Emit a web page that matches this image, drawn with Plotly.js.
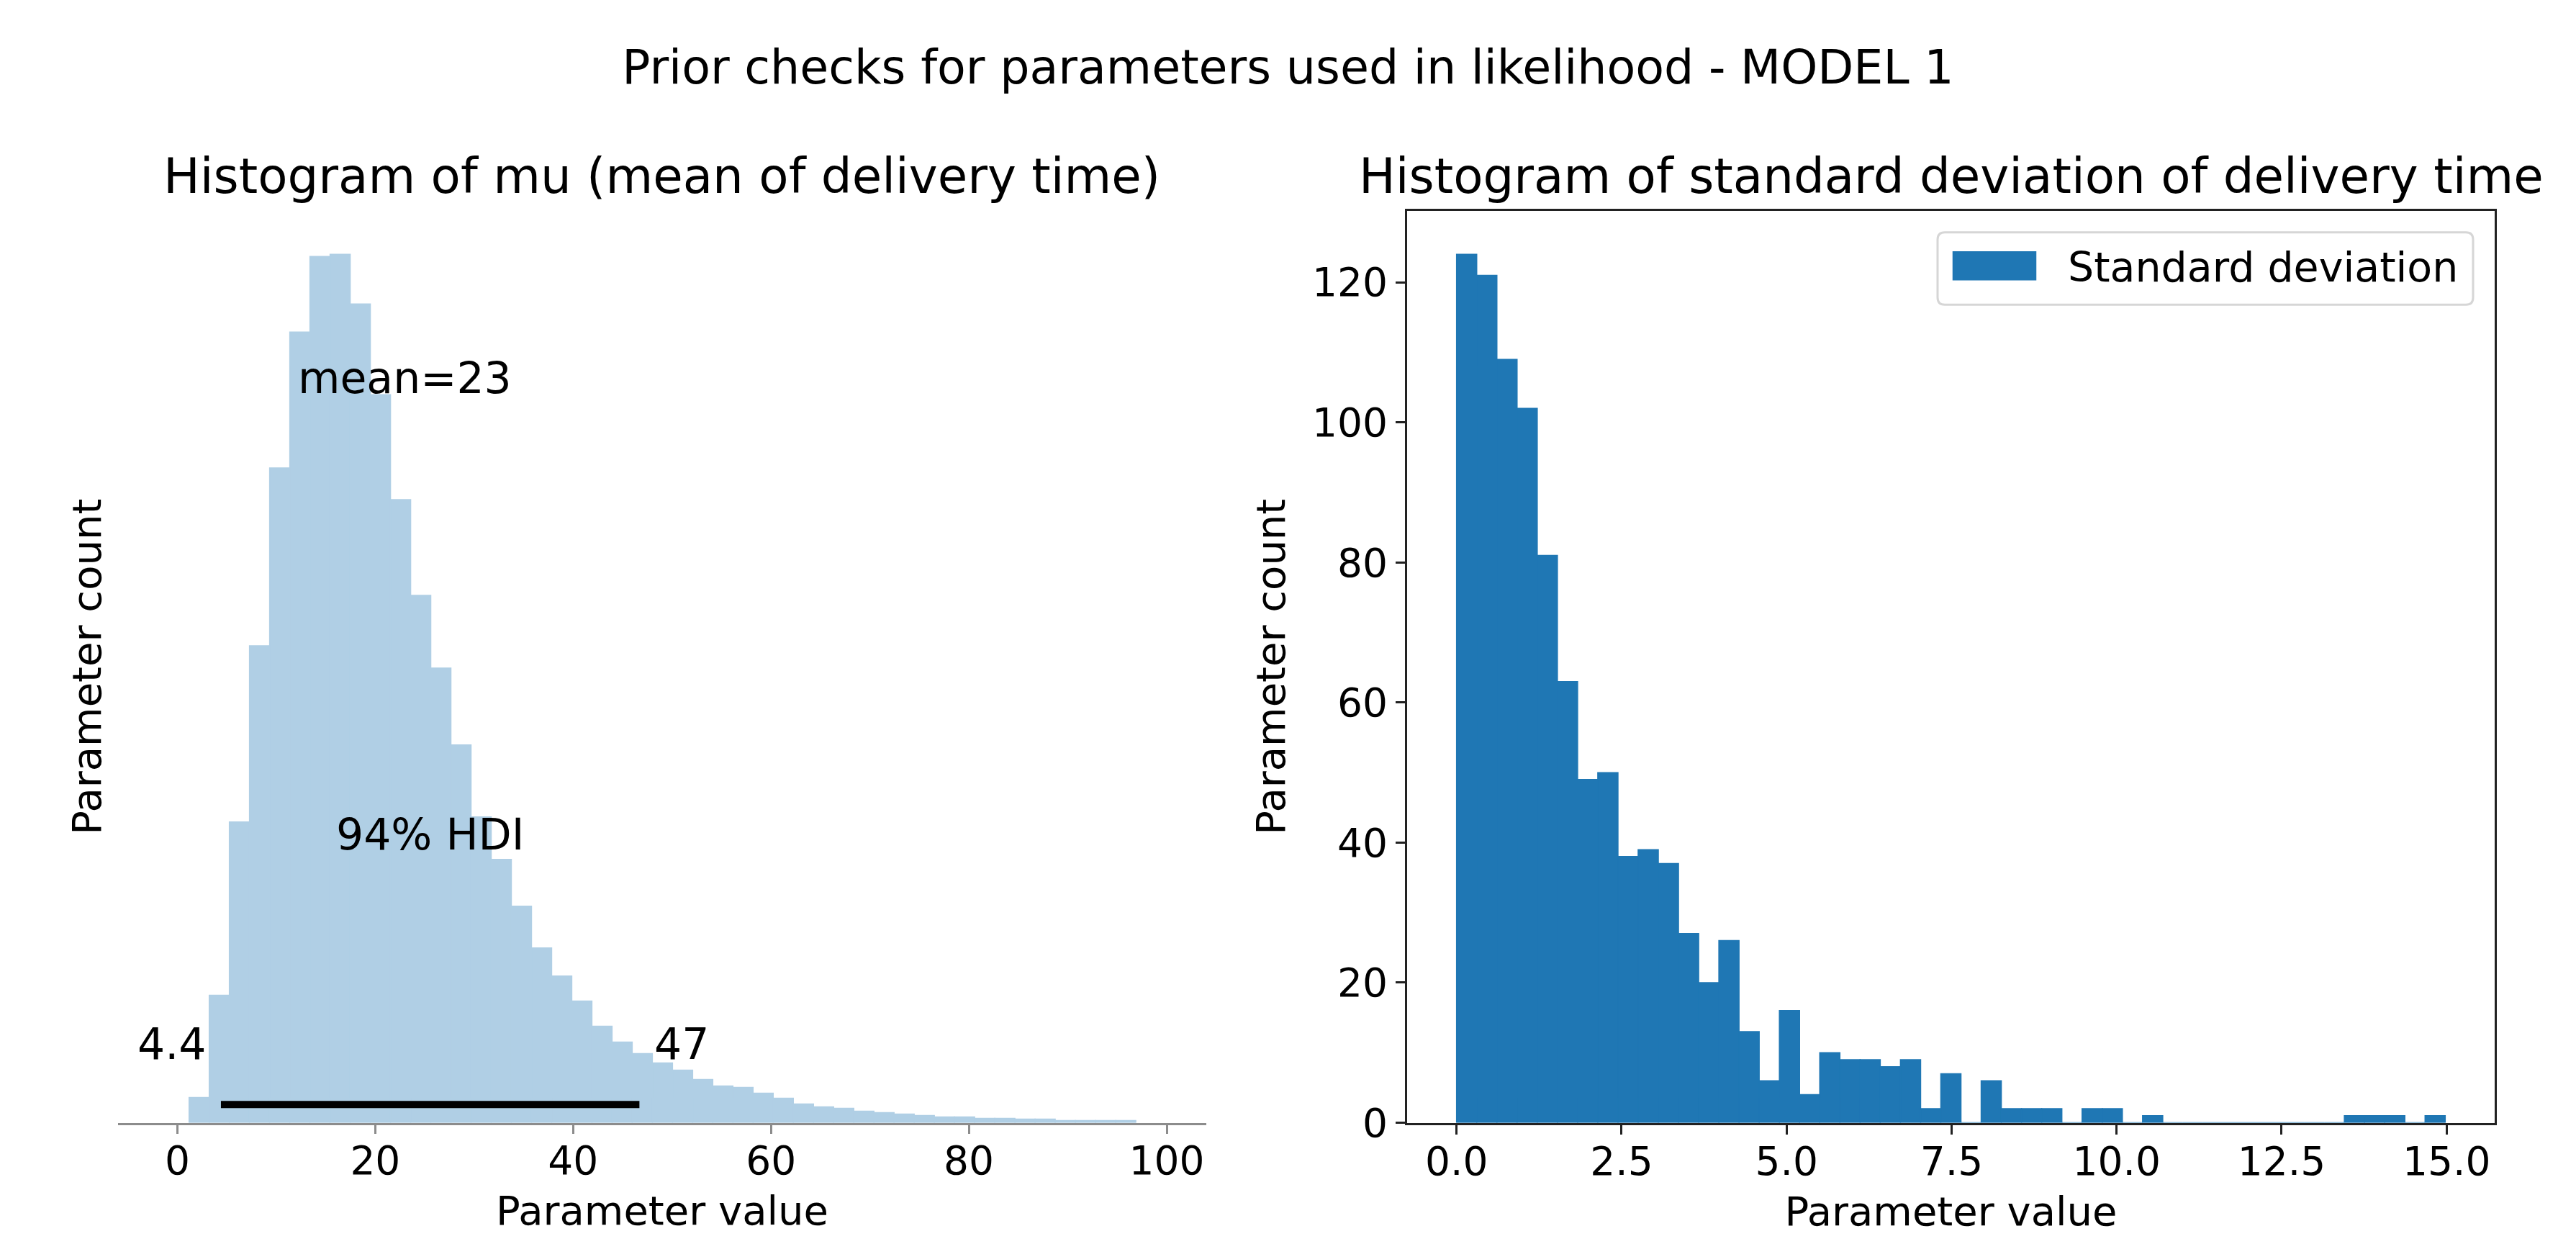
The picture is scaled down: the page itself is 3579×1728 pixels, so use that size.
<!DOCTYPE html>
<html>
<head>
<meta charset="utf-8">
<script src="https://cdn.plot.ly/plotly-3.0.1.min.js"></script>
<style>html,body{margin:0;padding:0;background:#ffffff;}#chart{width:3579px;height:1728px;}</style>
</head>
<body>
<div id="chart"></div>
<script>
// ---- data ----
const suptitle = "Prior checks for parameters used in likelihood - MODEL 1";
const muTitle = "Histogram of mu (mean of delivery time)";
const sdTitle = "Histogram of standard deviation of delivery time";
const xLabel = "Parameter value";
const yLabel = "Parameter count";
const legendLabel = "Standard deviation";

// mu prior histogram (arviz plot_posterior, relative heights, y axis hidden)
const muBinStart = 1.18;
const muBinWidth = 2.036;
const muHeights = [35, 177, 418, 663, 910, 1099, 1204, 1207, 1138, 1012,
                   866, 733, 632, 525, 425, 366, 301, 243, 204, 169,
                   134, 112, 96, 83, 73, 60, 51, 49, 41, 34,
                   26, 22, 20, 16, 14, 12, 10, 8, 8, 6,
                   6, 5, 5, 3, 3, 3, 3];
const muMean = 23;
const muHdi = [4.4, 46.7];
const hdiProb = 94;
const muTicks = [0, 20, 40, 60, 80, 100];

// standard deviation prior histogram (counts, 1000 draws)
const sdBinStart = 0.0;
const sdBinWidth = 0.3057;
const sdCounts = [124, 121, 109, 102, 81, 63, 49, 50, 38, 39,
                  37, 27, 20, 26, 13, 6, 16, 4, 10, 9,
                  9, 8, 9, 2, 7, 0, 6, 2, 2, 2,
                  0, 2, 2, 0, 1, 0, 0, 0, 0, 0,
                  0, 0, 0, 0, 1, 1, 1, 0, 1];
const sdXTicks = [0, 2.5, 5, 7.5, 10, 12.5, 15];
const sdYTicks = [0, 20, 40, 60, 80, 100, 120];

// ---- build ----
const W = 3579, H = 1728;
const FONT = "DejaVu Sans";
const muCenters = muHeights.map((_, i) => muBinStart + (i + 0.5) * muBinWidth);
const sdCenters = sdCounts.map((_, i) => sdBinStart + (i + 0.5) * sdBinWidth);
const sdEnd = sdBinStart + sdCounts.length * sdBinWidth;
const muYMax = Math.max(...muHeights) * 1.05;
const sdYMax = Math.max(...sdCounts) * 1.05;
const sdPad = 0.05 * (sdEnd - sdBinStart);

const yDom = [1 - 1559.5 / H, 1 - 293 / H];
const x1Dom = [164 / W, 1676 / W];
const x2Dom = [1955 / W, 3466 / W];

const muColor = '#b0cfe5';
const sdColor = '#1f77b4';

const traces = [
  {type: 'bar', x: muCenters, y: muHeights, width: muBinWidth,
   marker: {color: muColor, line: {width: 1.5, color: muColor}},
   xaxis: 'x', yaxis: 'y', showlegend: false, hoverinfo: 'skip'},
  {type: 'scatter', mode: 'lines', x: muHdi, y: [0.02 * muYMax, 0.02 * muYMax],
   line: {color: '#000000', width: 10}, xaxis: 'x', yaxis: 'y', showlegend: false, hoverinfo: 'skip'},
  {type: 'bar', x: sdCenters, y: sdCounts, width: sdBinWidth, name: legendLabel,
   marker: {color: sdColor, line: {width: 1.5, color: sdColor}},
   xaxis: 'x2', yaxis: 'y2', showlegend: true}
];

const tickFont = {family: FONT, size: 55, color: '#000000'};
const labFont = {family: FONT, size: 56, color: '#000000'};
const annFont = {family: FONT, size: 60, color: '#000000'};
const titleFont = {family: FONT, size: 67.5, color: '#000000'};
const supFont = {family: FONT, size: 65, color: '#000000'};

function base(fs) { return -(0.236 * fs + 2); }

const annotations = [
  {xref: 'paper', yref: 'paper', x: (x1Dom[0] + x1Dom[1]) / 2, y: yDom[1], yshift: 7,
   xanchor: 'center', yanchor: 'bottom', text: muTitle, showarrow: false, font: titleFont},
  {xref: 'paper', yref: 'paper', x: (x2Dom[0] + x2Dom[1]) / 2, y: yDom[1], yshift: 7,
   xanchor: 'center', yanchor: 'bottom', text: sdTitle, showarrow: false, font: titleFont},
  {xref: 'x', yref: 'y', x: muMean, y: 0.8 * muYMax, yshift: base(60), xanchor: 'center', yanchor: 'bottom',
   text: 'mean=' + muMean, showarrow: false, font: annFont},
  {xref: 'x', yref: 'y', x: (muHdi[0] + muHdi[1]) / 2, y: 0.3 * muYMax, yshift: base(60), xanchor: 'center', yanchor: 'bottom',
   text: hdiProb + '% HDI', showarrow: false, font: annFont},
  {xref: 'x', yref: 'y', x: muHdi[0], y: 0.07 * muYMax, yshift: base(60), xshift: -19, xanchor: 'right', yanchor: 'bottom',
   text: String(muHdi[0]), showarrow: false, font: annFont},
  {xref: 'x', yref: 'y', x: muHdi[1], y: 0.07 * muYMax, yshift: base(60), xshift: 19, xanchor: 'left', yanchor: 'bottom',
   text: String(Math.round(muHdi[1])), showarrow: false, font: annFont}
];

// rounded legend frame (matplotlib fancybox)
const lb = {x0: 2692, x1: 3436, y0: 322.7, y1: 423.3, r: 10};
function px(v) { return v / W; }
function py(v) { return 1 - v / H; }
const framePath =
  'M' + px(lb.x0 + lb.r) + ',' + py(lb.y0) +
  ' L' + px(lb.x1 - lb.r) + ',' + py(lb.y0) +
  ' Q' + px(lb.x1) + ',' + py(lb.y0) + ' ' + px(lb.x1) + ',' + py(lb.y0 + lb.r) +
  ' L' + px(lb.x1) + ',' + py(lb.y1 - lb.r) +
  ' Q' + px(lb.x1) + ',' + py(lb.y1) + ' ' + px(lb.x1 - lb.r) + ',' + py(lb.y1) +
  ' L' + px(lb.x0 + lb.r) + ',' + py(lb.y1) +
  ' Q' + px(lb.x0) + ',' + py(lb.y1) + ' ' + px(lb.x0) + ',' + py(lb.y1 - lb.r) +
  ' L' + px(lb.x0) + ',' + py(lb.y0 + lb.r) +
  ' Q' + px(lb.x0) + ',' + py(lb.y0) + ' ' + px(lb.x0 + lb.r) + ',' + py(lb.y0) + ' Z';

const layout = {
  width: W, height: H,
  margin: {l: 0, r: 0, t: 0, b: 0},
  paper_bgcolor: '#ffffff', plot_bgcolor: '#ffffff',
  font: {family: FONT, color: '#000000'},
  title: {text: suptitle, font: supFont, x: 0.5, xref: 'container', xanchor: 'center',
          y: 1 - 116 / H, yref: 'container', yanchor: 'bottom'},
  showlegend: true,
  legend: {x: px(lb.x0), y: py(lb.y0 + 3), xanchor: 'left', yanchor: 'top',
           bgcolor: 'rgba(0,0,0,0)', borderwidth: 0,
           font: {family: FONT, size: 57, color: '#000000'}, itemwidth: 171},
  shapes: [{type: 'path', xref: 'paper', yref: 'paper', path: framePath,
            fillcolor: 'rgba(255,255,255,0.8)', line: {color: '#d6d6d6', width: 3}, layer: 'above'}],
  xaxis: {domain: x1Dom, anchor: 'y', range: [-6, 104], tickvals: muTicks, ticktext: muTicks.map(String),
          showline: true, linecolor: '#8c8c8c', linewidth: 3, ticks: 'outside', ticklen: 12, tickwidth: 3,
          tickcolor: '#8c8c8c', tickfont: tickFont, ticklabelstandoff: -10, showgrid: false, zeroline: false,
          title: {text: xLabel, font: labFont, standoff: 20}},
  yaxis: {domain: yDom, anchor: 'x', range: [0, muYMax], showticklabels: false, ticks: '',
          showline: false, showgrid: false, zeroline: false,
          title: {text: yLabel, font: labFont, standoff: 4}},
  xaxis2: {domain: x2Dom, anchor: 'y2', range: [sdBinStart - sdPad, sdEnd + sdPad], tickvals: sdXTicks,
           ticktext: sdXTicks.map(v => v.toFixed(1)),
           showline: true, mirror: true, linecolor: '#222222', linewidth: 3, ticks: 'outside', ticklen: 13,
           tickwidth: 3, tickcolor: '#222222', tickfont: tickFont, ticklabelstandoff: -10, showgrid: false, zeroline: false,
           title: {text: xLabel, font: labFont, standoff: 20}},
  yaxis2: {domain: yDom, anchor: 'x2', range: [0, sdYMax], tickvals: sdYTicks, ticktext: sdYTicks.map(String),
           showline: true, mirror: true, linecolor: '#222222', linewidth: 3, ticks: 'outside', ticklen: 13,
           tickwidth: 3, tickcolor: '#222222', tickfont: tickFont, showgrid: false, zeroline: false,
           title: {text: yLabel, font: labFont, standoff: 20}},
  annotations: annotations
};

Plotly.newPlot('chart', traces, layout, {displayModeBar: false, staticPlot: true}).then(function (gd) {
  // matplotlib legend patch: 2em x 0.7em, left-aligned in the handle area
  const sym = gd.querySelector('.legend .legendpoints path');
  if (sym) { sym.setAttribute('d', 'M-69,19.5H46V-19.5H-69Z'); }
});
</script>
</body>
</html>
